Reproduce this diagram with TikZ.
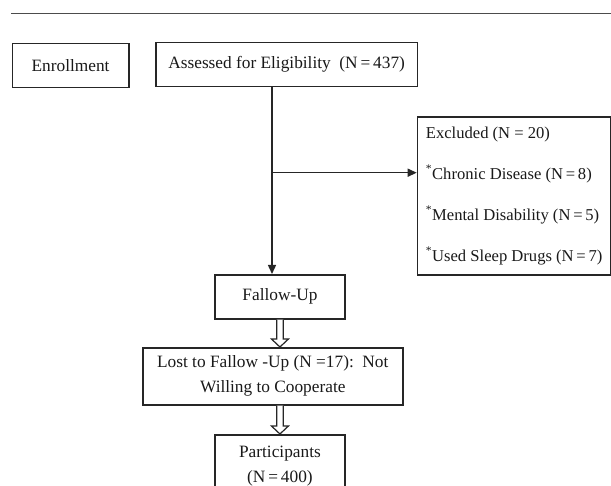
\documentclass[tikz,border=0pt]{standalone}
\usepackage{fontspec}
\setmainfont{Liberation Serif}
\usetikzlibrary{arrows.meta,calc}
\begin{document}
\begin{tikzpicture}[x=1pt,y=-1pt,
  box/.style={draw=black!85, line width=1.6pt, rectangle, inner sep=0pt,
    font=\fontsize{17.3}{25}\selectfont, text=black!90, align=center, anchor=north west},
  conn/.style={draw=black!85, line width=1.4pt, -{Triangle[length=9pt,width=8pt]}},
  hollow/.style={draw=black!85, line width=1.2pt, fill=white, line join=miter},
  rule/.style={draw=black!70, line width=0.9pt}]
\useasboundingbox (0,0) rectangle (611,486);
\coordinate (r1) at (11,13.3);
\coordinate (r2) at (611,13.3);
\draw[rule] (r1) -- (r2);
\node[box, minimum width=116.5pt, minimum height=44pt] (en) at (11.5,42.7) {Enrollment};
\node[box, minimum width=261.7pt, minimum height=44pt] (as) at (155,41.7) {Assessed for Eligibility\ \ (N\,=\,437)};
\node[box, minimum width=193.3pt, minimum height=158pt, align=left,
  font=\fontsize{16.6}{41}\selectfont] (ex) at (416.7,116)
  {Excluded (N = 20)\\
   \textsuperscript{*}Chronic Disease (N\,=\,8)\\
   \textsuperscript{*}Mental Disability (N\,=\,5)\\
   \textsuperscript{*}Used Sleep Drugs (N\,=\,7)};
\node[box, minimum width=130.3pt, minimum height=44pt] (fu) at (214,274) {Fallow-Up};
\node[box, minimum width=260pt, minimum height=57pt] (lo) at (142,347)
  {Lost to Fallow -Up (N =17):\ \ Not\\Willing to Cooperate};
\node[box, minimum width=130.3pt, minimum height=62pt] (pa) at (214,434)
  {Participants\\(N\,=\,400)};
% main connector
\coordinate (j) at (272,172.7);
\draw[conn] (as.south -| j) -- (j |- fu.north);
\draw[conn] (j) -- (j -| ex.west);
% hollow double arrows
\coordinate (a1) at (fu.south);
\coordinate (b1) at (fu.south |- lo.north);
\draw[hollow] ($(a1)+(-3.3,0)$) -- ($(b1)+(-3.3,-8)$) -- ($(b1)+(-8.5,-8)$) -- (b1)
  -- ($(b1)+(8.5,-8)$) -- ($(b1)+(3.3,-8)$) -- ($(a1)+(3.3,0)$);
\coordinate (a2) at (fu.south |- lo.south);
\coordinate (b2) at (fu.south |- pa.north);
\draw[hollow] ($(a2)+(-3.3,0)$) -- ($(b2)+(-3.3,-8)$) -- ($(b2)+(-8.5,-8)$) -- (b2)
  -- ($(b2)+(8.5,-8)$) -- ($(b2)+(3.3,-8)$) -- ($(a2)+(3.3,0)$);
\end{tikzpicture}
\end{document}
